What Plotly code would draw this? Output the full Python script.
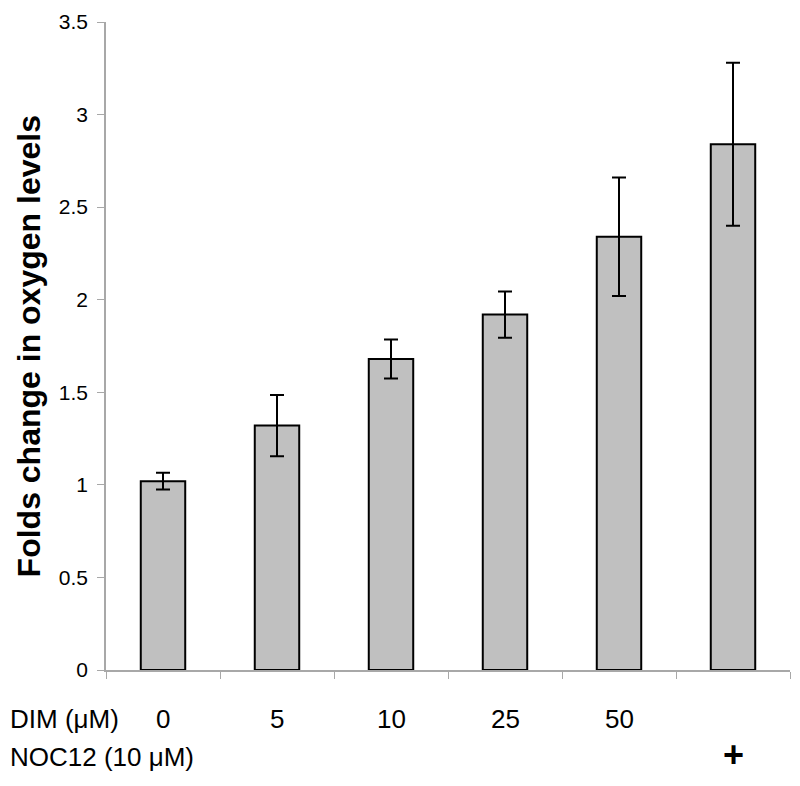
import plotly.graph_objects as go

dim_labels = ["0", "5", "10", "25", "50", ""]
noc_labels = ["", "", "", "", "", "+"]
values = [1.02, 1.32, 1.68, 1.92, 2.34, 2.84]
errors = [0.045, 0.165, 0.105, 0.125, 0.32, 0.44]
y_ticks = [0, 0.5, 1, 1.5, 2, 2.5, 3, 3.5]
y_tick_text = ["0", "0.5", "1", "1.5", "2", "2.5", "3", "3.5"]

xs = list(range(len(values)))
FONT = "Liberation Sans, Arial, sans-serif"

fig = go.Figure()
fig.add_trace(go.Bar(
    x=xs, y=values, width=0.39,
    marker=dict(color="#c0c0c0", line=dict(color="black", width=2)),
    error_y=dict(type="data", array=errors, visible=True,
                 color="black", thickness=2, width=7),
    showlegend=False,
))

annotations = []
for i, t in enumerate(dim_labels):
    if t:
        annotations.append(dict(x=i, y=-0.075, xref="x", yref="paper", text=t,
                                showarrow=False, font=dict(size=26, color="black", family=FONT),
                                xanchor="center", yanchor="middle"))
for i, t in enumerate(noc_labels):
    if t:
        annotations.append(dict(x=i, y=-0.130, xref="x", yref="paper", text="<b>" + t + "</b>",
                                showarrow=False, font=dict(size=36, color="black", family=FONT),
                                xanchor="center", yanchor="middle"))
annotations.append(dict(x=-0.143, y=-0.075, xref="paper", yref="paper", text="DIM (\u03bcM)",
                        showarrow=False, font=dict(size=26, color="black", family=FONT),
                        xanchor="left", yanchor="middle"))
annotations.append(dict(x=-0.143, y=-0.135, xref="paper", yref="paper", text="NOC12 (10 \u03bcM)",
                        showarrow=False, font=dict(size=26, color="black", family=FONT),
                        xanchor="left", yanchor="middle"))
annotations.append(dict(x=-0.112, y=0.5, xref="paper", yref="paper",
                        text="<b>Folds change in oxygen levels</b>", textangle=-90,
                        showarrow=False, font=dict(size=32, color="black", family=FONT),
                        xanchor="center", yanchor="middle"))

fig.update_layout(
    width=784, height=770,
    margin=dict(l=98, r=2, t=11, b=108),
    paper_bgcolor="white", plot_bgcolor="white",
    font=dict(family=FONT, color="black"),
    bargap=0.6,
    annotations=annotations,
    xaxis=dict(range=[-0.5, 5.5], tickmode="array",
               tickvals=[-0.5, 0.5, 1.5, 2.5, 3.5, 4.5, 5.5],
               ticktext=[""] * 7, ticks="outside", ticklen=7, tickcolor="#a8a8a8",
               showline=True, linecolor="#a8a8a8", linewidth=1.5,
               showgrid=False, zeroline=False, fixedrange=True),
    yaxis=dict(range=[0, 3.5], tickmode="array", tickvals=y_ticks, ticktext=y_tick_text,
               ticks="outside", ticklen=7, tickcolor="#a8a8a8",
               showline=True, linecolor="#a8a8a8", linewidth=1.5,
               showgrid=False, zeroline=False, ticklabelstandoff=5,
               ticklabeloverflow="allow",
               tickfont=dict(size=21, color="black", family=FONT)),
)

fig.write_html("out.html")
